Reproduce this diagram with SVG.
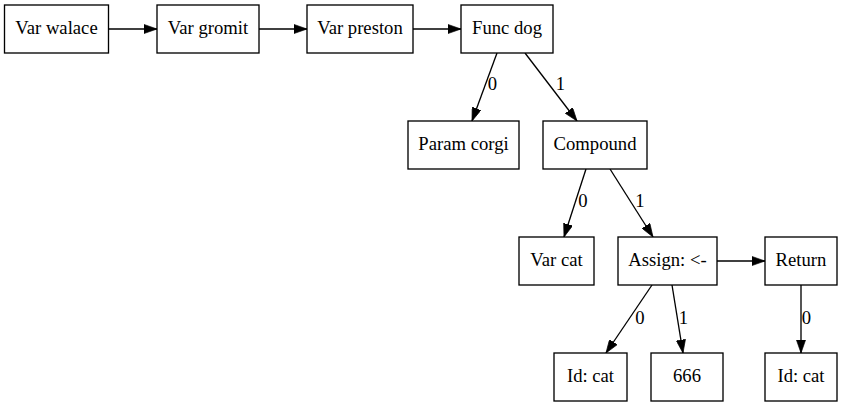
<svg xmlns="http://www.w3.org/2000/svg" width="843" height="407" viewBox="0 0 843 407">
<style>
.n rect{fill:#fff;stroke:#000;stroke-width:1.33}
text{font-family:"Liberation Serif","Times New Roman",serif;font-size:18.67px;fill:#000;text-anchor:middle}
.e path{fill:none;stroke:#000;stroke-width:1.33;marker-end:url(#ah)}
</style>
<defs>
<marker id="ah" viewBox="0 0 10 7" refX="10" refY="3.5" markerWidth="13.3" markerHeight="9.3" markerUnits="userSpaceOnUse" orient="auto">
<path d="M0,0 L10,3.5 L0,7 z" fill="#000" stroke="#000" stroke-width="0.5"/>
</marker>
</defs>
<rect width="843" height="407" fill="#fff"/>
<g id="connectors" class="e">
<path d="M108.5,29 L157,29"/>
<path d="M259,29 L307,29"/>
<path d="M413,29 L461,29"/>
<path d="M497,53 L472,121"/>
<path d="M525,53 L577,121"/>
<path d="M586,169 L564,237"/>
<path d="M610,169 L653,237"/>
<path d="M717,261 L765,261"/>
<path d="M652,285 L606,353"/>
<path d="M672,285 L683,353"/>
<path d="M801,285 L801,353"/>
<text x="492.5" y="90">0</text>
<text x="560.5" y="90">1</text>
<text x="583" y="206.5">0</text>
<text x="640" y="206.5">1</text>
<text x="640" y="323.5">0</text>
<text x="683.5" y="323.5">1</text>
<text x="806.5" y="323.5">0</text>
</g>
<g id="var_walace" class="n"><rect x="4.5" y="5" width="104" height="48"/><text x="56.5" y="33.5">Var walace</text></g>
<g id="var_gromit" class="n"><rect x="157" y="5" width="102" height="48"/><text x="208" y="33.5">Var gromit</text></g>
<g id="var_preston" class="n"><rect x="307" y="5" width="106" height="48"/><text x="360" y="33.5">Var preston</text></g>
<g id="func_dog" class="n"><rect x="461" y="5" width="92" height="48"/><text x="507" y="33.5">Func dog</text></g>
<g id="param_corgi" class="n"><rect x="408" y="121" width="111" height="48"/><text x="463.5" y="149.5">Param corgi</text></g>
<g id="compound" class="n"><rect x="543" y="121" width="104" height="48"/><text x="595" y="149.5">Compound</text></g>
<g id="var_cat" class="n"><rect x="519" y="237" width="75" height="48"/><text x="556.5" y="265.5">Var cat</text></g>
<g id="assign" class="n"><rect x="618" y="237" width="99" height="48"/><text x="667.5" y="265.5">Assign: &lt;-</text></g>
<g id="return" class="n"><rect x="765" y="237" width="72" height="48"/><text x="801" y="265.5">Return</text></g>
<g id="id_cat_1" class="n"><rect x="554" y="353" width="73" height="48"/><text x="590.5" y="381.5">Id: cat</text></g>
<g id="num_666" class="n"><rect x="651" y="353" width="72" height="48"/><text x="687" y="381.5">666</text></g>
<g id="id_cat_2" class="n"><rect x="765" y="353" width="72" height="48"/><text x="801" y="381.5">Id: cat</text></g>
</svg>
